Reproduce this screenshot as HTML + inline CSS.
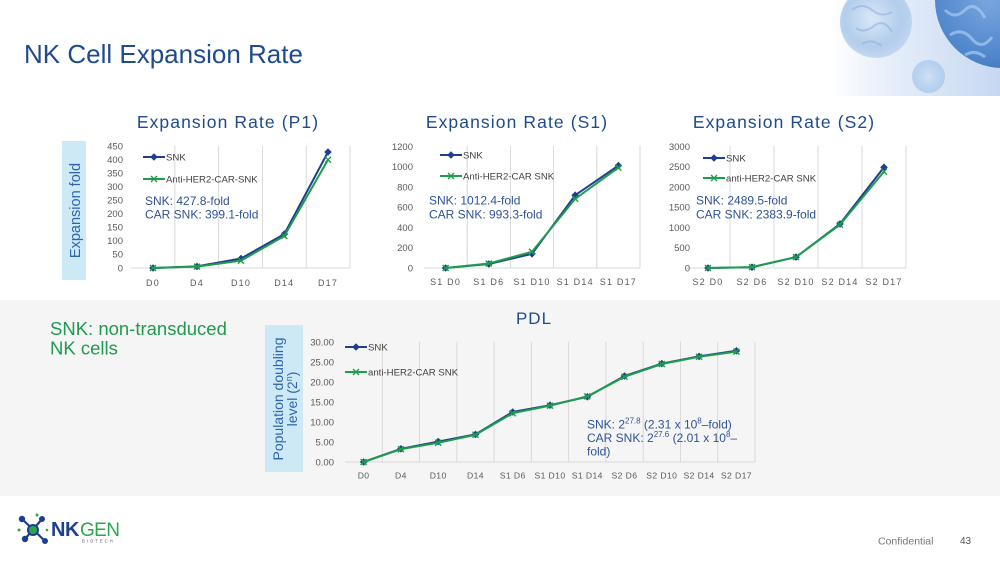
<!DOCTYPE html>
<html><head><meta charset="utf-8">
<style>
html,body{margin:0;padding:0;background:#fff;}
svg{display:block;font-family:"Liberation Sans",Arial,sans-serif;}
.yt{font-size:9.5px;fill:#595959;text-anchor:end;}
.xt{font-size:9px;fill:#595959;text-anchor:middle;letter-spacing:1.2px;}
.xp{font-size:8.6px;fill:#595959;text-anchor:middle;letter-spacing:0.4px;}
.lg{font-size:9.6px;fill:#404040;}
.an{font-size:12px;fill:#2e5395;}
.ct{font-size:17.5px;fill:#1f4a8e;letter-spacing:1.1px;text-anchor:middle;}
.grid{stroke:#d9d9d9;stroke-width:1;}
.snk{fill:none;stroke:#203f8e;stroke-width:2;marker-start:url(#dia);marker-mid:url(#dia);marker-end:url(#dia);}
.car{fill:none;stroke:#1f9d4c;stroke-width:2;marker-start:url(#xx);marker-mid:url(#xx);marker-end:url(#xx);}
</style></head><body>
<svg width="1000" height="562" viewBox="0 0 1000 562" xmlns="http://www.w3.org/2000/svg">
<defs>
<marker id="dia" viewBox="-5 -5 10 10" markerWidth="10" markerHeight="10" markerUnits="userSpaceOnUse" refX="0" refY="0">
<path d="M0,-3.8 L3.8,0 L0,3.8 L-3.8,0Z" fill="#203f8e"/>
</marker>
<marker id="xx" viewBox="-5 -5 10 10" markerWidth="10" markerHeight="10" markerUnits="userSpaceOnUse" refX="0" refY="0">
<path d="M-3,-3L3,3M-3,3L3,-3" stroke="#1f9d4c" stroke-width="1.4" fill="none"/>
</marker>
<linearGradient id="bgimg" x1="0" y1="0" x2="1" y2="0">
<stop offset="0" stop-color="#ffffff"/>
<stop offset="0.35" stop-color="#e6eefa"/>
<stop offset="1" stop-color="#c6d8f2"/>
</linearGradient>
<radialGradient id="cellA" cx="0.45" cy="0.45" r="0.55">
<stop offset="0" stop-color="#d9e8f8"/>
<stop offset="0.7" stop-color="#b3cdec"/>
<stop offset="1" stop-color="#9fc0e6" stop-opacity="0.5"/>
</radialGradient>
<radialGradient id="cellB" cx="0.4" cy="0.5" r="0.6">
<stop offset="0" stop-color="#7aa6de"/>
<stop offset="0.7" stop-color="#4f86cc"/>
<stop offset="1" stop-color="#3d6fb8"/>
</radialGradient>
<radialGradient id="cellC" cx="0.5" cy="0.5" r="0.5">
<stop offset="0" stop-color="#d0e2f6"/>
<stop offset="1" stop-color="#a3c4ea" stop-opacity="0.7"/>
</radialGradient>
</defs>

<!-- top right image -->
<rect x="830" y="0" width="170" height="96" fill="url(#bgimg)"/>
<circle cx="876" cy="22" r="36" fill="url(#cellA)"/>
<path d="M852,10 q10,-8 20,0 t20,2 M856,28 q8,6 18,-2 t18,6 M862,44 q10,-6 20,2" stroke="#8fb2de" stroke-width="2" fill="none" opacity="0.6"/>
<circle cx="1003" cy="0" r="68" fill="url(#cellB)"/>
<path d="M945,10 q10,10 20,0 t20,8 M950,35 q12,-8 22,4 t20,-2 M965,55 q10,-6 20,2" stroke="#a9c9f0" stroke-width="3" fill="none" opacity="0.7"/>
<circle cx="928.5" cy="76.5" r="16.5" fill="url(#cellC)"/>

<!-- title -->
<text x="24" y="63" font-size="26" fill="#1f4a8e">NK Cell Expansion Rate</text>

<!-- chart titles -->
<text class="ct" x="228" y="128">Expansion Rate (P1)</text>
<text class="ct" x="517" y="128">Expansion Rate (S1)</text>
<text class="ct" x="784" y="128">Expansion Rate (S2)</text>

<!-- y title P1 -->
<rect x="62" y="141" width="24" height="139" fill="#cde9f6"/>
<text x="75" y="210.5" font-size="14.5" fill="#2e64ad" text-anchor="middle" dy="0.35em" transform="rotate(-90 75 210.5)">Expansion fold</text>

<!-- P1 chart -->
<g>
<line class="grid" x1="174.8" y1="146" x2="174.8" y2="268"/>
<line class="grid" x1="218.6" y1="146" x2="218.6" y2="268"/>
<line class="grid" x1="262.4" y1="146" x2="262.4" y2="268"/>
<line class="grid" x1="306.2" y1="146" x2="306.2" y2="268"/>
<line class="grid" x1="350" y1="146" x2="350" y2="268"/>
<line class="grid" x1="131" y1="268" x2="350" y2="268"/>
<text class="yt" x="123" y="271.3">0</text>
<text class="yt" x="123" y="257.7">50</text>
<text class="yt" x="123" y="244.2">100</text>
<text class="yt" x="123" y="230.6">150</text>
<text class="yt" x="123" y="217.1">200</text>
<text class="yt" x="123" y="203.5">250</text>
<text class="yt" x="123" y="190">300</text>
<text class="yt" x="123" y="176.4">350</text>
<text class="yt" x="123" y="162.9">400</text>
<text class="yt" x="123" y="149.3">450</text>
<text class="xt" x="153" y="286">D0</text>
<text class="xt" x="197" y="286">D4</text>
<text class="xt" x="241" y="286">D10</text>
<text class="xt" x="284.3" y="286">D14</text>
<text class="xt" x="328" y="286">D17</text>
<polyline class="snk" points="153,268 197,266.4 241,258.5 284.3,234.1 328,152"/>
<polyline class="car" points="153,268 197,266.6 241,260.7 284.3,236 328,159.8"/>
<line x1="143" y1="157" x2="165" y2="157" stroke="#203f8e" stroke-width="2"/>
<path d="M154,153.2 L157.8,157 L154,160.8 L150.2,157Z" fill="#203f8e"/>
<text class="lg" x="166" y="160.5">SNK</text>
<line x1="143" y1="179" x2="165" y2="179" stroke="#1f9d4c" stroke-width="2"/>
<path d="M151,176L157,182M151,182L157,176" stroke="#1f9d4c" stroke-width="1.4"/>
<text class="lg" x="166" y="182.5">Anti-HER2-CAR-SNK</text>
<text class="an" x="145" y="205">SNK: 427.8-fold</text>
<text class="an" x="145" y="218.5">CAR SNK: 399.1-fold</text>
</g>

<!-- S1 chart -->
<g>
<line class="grid" x1="467.2" y1="146" x2="467.2" y2="268"/>
<line class="grid" x1="510.4" y1="146" x2="510.4" y2="268"/>
<line class="grid" x1="553.6" y1="146" x2="553.6" y2="268"/>
<line class="grid" x1="596.8" y1="146" x2="596.8" y2="268"/>
<line class="grid" x1="640" y1="146" x2="640" y2="268"/>
<line class="grid" x1="424" y1="268" x2="640" y2="268"/>
<text class="yt" x="413" y="271.3">0</text>
<text class="yt" x="413" y="251.1">200</text>
<text class="yt" x="413" y="230.9">400</text>
<text class="yt" x="413" y="210.6">600</text>
<text class="yt" x="413" y="190.4">800</text>
<text class="yt" x="413" y="170.2">1000</text>
<text class="yt" x="413" y="150">1200</text>
<text class="xt" x="445.6" y="285">S1 D0</text>
<text class="xt" x="488.8" y="285">S1 D6</text>
<text class="xt" x="532" y="285">S1 D10</text>
<text class="xt" x="575.2" y="285">S1 D14</text>
<text class="xt" x="618.4" y="285">S1 D17</text>
<polyline class="snk" points="445.6,268 488.8,264 532,253.8 575.2,195.2 618.4,165.6"/>
<polyline class="car" points="445.6,268 488.8,263.5 532,251.8 575.2,198.8 618.4,167.6"/>
<line x1="440" y1="155" x2="462" y2="155" stroke="#203f8e" stroke-width="2"/>
<path d="M451,151.2 L454.8,155 L451,158.8 L447.2,155Z" fill="#203f8e"/>
<text class="lg" x="463" y="158.5">SNK</text>
<line x1="440" y1="176" x2="462" y2="176" stroke="#1f9d4c" stroke-width="2"/>
<path d="M448,173L454,179M448,179L454,173" stroke="#1f9d4c" stroke-width="1.4"/>
<text class="lg" x="463" y="179.5">Anti-HER2-CAR SNK</text>
<text class="an" x="429" y="204.5">SNK: 1012.4-fold</text>
<text class="an" x="429" y="218.5">CAR SNK: 993.3-fold</text>
</g>

<!-- S2 chart -->
<g>
<line class="grid" x1="730" y1="146" x2="730" y2="268"/>
<line class="grid" x1="774" y1="146" x2="774" y2="268"/>
<line class="grid" x1="818" y1="146" x2="818" y2="268"/>
<line class="grid" x1="862" y1="146" x2="862" y2="268"/>
<line class="grid" x1="906" y1="146" x2="906" y2="268"/>
<line class="grid" x1="686" y1="268" x2="906" y2="268"/>
<text class="yt" x="690" y="271.3">0</text>
<text class="yt" x="690" y="251.1">500</text>
<text class="yt" x="690" y="230.9">1000</text>
<text class="yt" x="690" y="210.6">1500</text>
<text class="yt" x="690" y="190.4">2000</text>
<text class="yt" x="690" y="170.2">2500</text>
<text class="yt" x="690" y="150">3000</text>
<text class="xt" x="708" y="285">S2 D0</text>
<text class="xt" x="752" y="285">S2 D6</text>
<text class="xt" x="796" y="285">S2 D10</text>
<text class="xt" x="840" y="285">S2 D14</text>
<text class="xt" x="884" y="285">S2 D17</text>
<polyline class="snk" points="708,268 752,267.2 796,257.1 840,223.9 884,167.3"/>
<polyline class="car" points="708,268 752,267.1 796,257.1 840,224.7 884,171.6"/>
<line x1="703" y1="158" x2="725" y2="158" stroke="#203f8e" stroke-width="2"/>
<path d="M714,154.2 L717.8,158 L714,161.8 L710.2,158Z" fill="#203f8e"/>
<text class="lg" x="726" y="161.5">SNK</text>
<line x1="703" y1="178" x2="725" y2="178" stroke="#1f9d4c" stroke-width="2"/>
<path d="M711,175L717,181M711,181L717,175" stroke="#1f9d4c" stroke-width="1.4"/>
<text class="lg" x="726" y="181.5">anti-HER2-CAR SNK</text>
<text class="an" x="696" y="204.5">SNK: 2489.5-fold</text>
<text class="an" x="696" y="218.5">CAR SNK: 2383.9-fold</text>
</g>

<!-- gray band -->
<rect x="0" y="300" width="1000" height="196" fill="#f5f5f5"/>
<text x="534" y="324" font-size="17" fill="#1f4a8e" text-anchor="middle" letter-spacing="1">PDL</text>
<text x="50" y="335" font-size="18.5" fill="#1f9a4f">SNK: non-transduced</text>
<text x="50" y="354.5" font-size="18.5" fill="#1f9a4f">NK cells</text>

<!-- PDL y title -->
<rect x="265" y="325" width="38" height="147" fill="#cde9f6"/>
<text x="278" y="399" font-size="14" fill="#2e64ad" text-anchor="middle" dy="0.35em" transform="rotate(-90 278 399)">Population doubling</text>
<text x="292" y="399" font-size="14" fill="#2e64ad" text-anchor="middle" dy="0.35em" transform="rotate(-90 292 399)">level (2<tspan font-size="9" dy="-5">n</tspan><tspan dy="5">)</tspan></text>

<!-- PDL chart -->
<g>
<line class="grid" x1="382.3" y1="342" x2="382.3" y2="462"/>
<line class="grid" x1="419.5" y1="342" x2="419.5" y2="462"/>
<line class="grid" x1="456.8" y1="342" x2="456.8" y2="462"/>
<line class="grid" x1="494.1" y1="342" x2="494.1" y2="462"/>
<line class="grid" x1="531.4" y1="342" x2="531.4" y2="462"/>
<line class="grid" x1="568.6" y1="342" x2="568.6" y2="462"/>
<line class="grid" x1="605.9" y1="342" x2="605.9" y2="462"/>
<line class="grid" x1="643.2" y1="342" x2="643.2" y2="462"/>
<line class="grid" x1="680.5" y1="342" x2="680.5" y2="462"/>
<line class="grid" x1="717.7" y1="342" x2="717.7" y2="462"/>
<line class="grid" x1="755" y1="342" x2="755" y2="462"/>
<line class="grid" x1="345" y1="462" x2="755" y2="462"/>
<text class="yt" x="334" y="465.3">0.00</text>
<text class="yt" x="334" y="445.3">5.00</text>
<text class="yt" x="334" y="425.3">10.00</text>
<text class="yt" x="334" y="405.3">15.00</text>
<text class="yt" x="334" y="385.3">20.00</text>
<text class="yt" x="334" y="365.3">25.00</text>
<text class="yt" x="334" y="345.3">30.00</text>
<text class="xp" x="363.6" y="478.5" letter-spacing="1.2">D0</text>
<text class="xp" x="400.9" y="478.5" letter-spacing="1.2">D4</text>
<text class="xp" x="438.2" y="478.5" letter-spacing="1.2">D10</text>
<text class="xp" x="475.5" y="478.5" letter-spacing="1.2">D14</text>
<text class="xp" x="512.7" y="478.5">S1 D6</text>
<text class="xp" x="550" y="478.5">S1 D10</text>
<text class="xp" x="587.3" y="478.5">S1 D14</text>
<text class="xp" x="624.5" y="478.5">S2 D6</text>
<text class="xp" x="661.8" y="478.5">S2 D10</text>
<text class="xp" x="699.1" y="478.5">S2 D14</text>
<text class="xp" x="736.4" y="478.5">S2 D17</text>
<polyline class="snk" points="363.6,462 400.9,448.8 438.2,441.6 475.5,434.4 512.7,412 550,405.2 587.3,396.8 624.5,376 661.8,363.6 699.1,356.4 736.4,350.8"/>
<polyline class="car" points="363.6,462 400.9,449.2 438.2,442.8 475.5,434.8 512.7,413.2 550,405.6 587.3,396.4 624.5,376.8 661.8,364 699.1,356.8 736.4,351.6"/>
<line x1="345" y1="347" x2="367" y2="347" stroke="#203f8e" stroke-width="2"/>
<path d="M356,343.2 L359.8,347 L356,350.8 L352.2,347Z" fill="#203f8e"/>
<text class="lg" x="368" y="350.5">SNK</text>
<line x1="345" y1="372" x2="367" y2="372" stroke="#1f9d4c" stroke-width="2"/>
<path d="M353,369L359,375M353,375L359,369" stroke="#1f9d4c" stroke-width="1.4"/>
<text class="lg" x="368" y="375.5">anti-HER2-CAR SNK</text>
<text class="an" x="587" y="428.5" font-size="12.5">SNK: 2<tspan font-size="8" dy="-5">27.8</tspan><tspan dy="5"> (2.31 x 10</tspan><tspan font-size="8" dy="-5">8</tspan><tspan dy="5">–fold)</tspan></text>
<text class="an" x="587" y="442" font-size="12.5">CAR SNK: 2<tspan font-size="8" dy="-5">27.6</tspan><tspan dy="5"> (2.01 x 10</tspan><tspan font-size="8" dy="-5">8</tspan><tspan dy="5">–</tspan></text>
<text class="an" x="587" y="455.5" font-size="12.5">fold)</text>
</g>

<!-- logo -->
<g>
<line x1="22" y1="519" x2="45" y2="541" stroke="#1c3f8f" stroke-width="2.2"/>
<line x1="42" y1="519" x2="25" y2="539" stroke="#1c3f8f" stroke-width="2.2"/>
<circle cx="22" cy="519" r="3.2" fill="#1c3f8f"/>
<circle cx="42" cy="519" r="3" fill="#1c3f8f"/>
<circle cx="25" cy="539" r="3.2" fill="#1c3f8f"/>
<circle cx="45" cy="541" r="3" fill="#1c3f8f"/>
<circle cx="33" cy="530" r="6" fill="#1c3f8f"/>
<circle cx="33" cy="530" r="4" fill="#2aa84a"/>
<circle cx="19" cy="530" r="1.5" fill="#2aa84a"/>
<circle cx="37" cy="515" r="1.5" fill="#2aa84a"/>
<circle cx="47" cy="530" r="1.3" fill="#2aa84a"/>
<text x="51" y="536" font-size="20" font-weight="bold" fill="#1c3f8f" letter-spacing="-0.5">NK</text>
<text x="80" y="536" font-size="19" fill="#2aa84a" letter-spacing="-0.6">GEN</text>
<text x="82" y="542.5" font-size="4.2" fill="#555" letter-spacing="2">BIOTECH</text>
</g>

<text x="878" y="544.5" font-size="10.5" fill="#777">Confidential</text>
<text x="960" y="544" font-size="10" fill="#555">43</text>
</svg>
</body></html>
